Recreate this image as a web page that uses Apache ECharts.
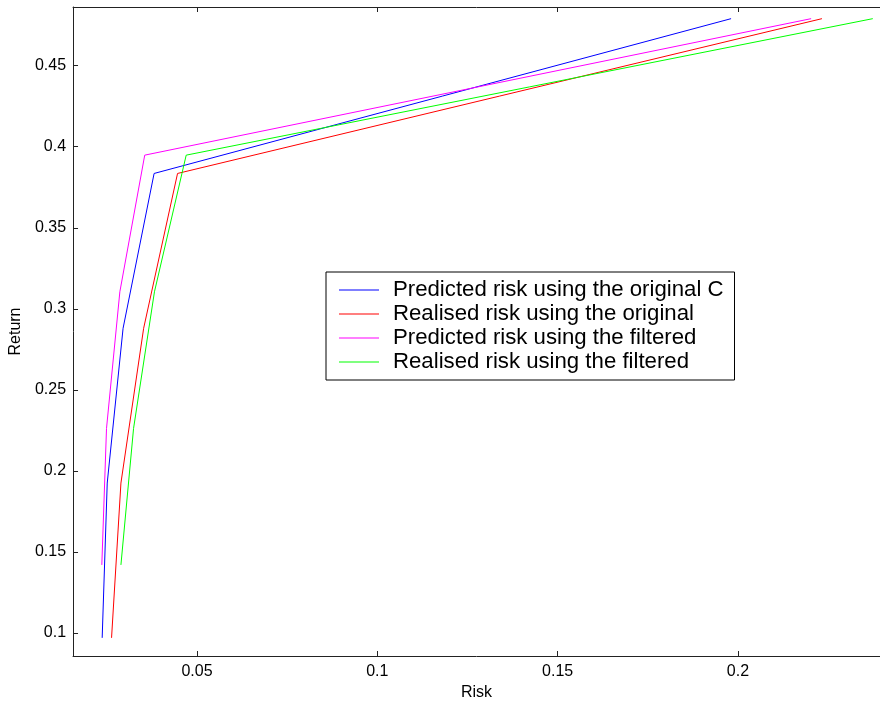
<!DOCTYPE html>
<html>
<head>
<meta charset="utf-8">
<title>Risk vs Return</title>
<script src="https://cdn.jsdelivr.net/npm/echarts@6/dist/echarts.min.js"></script>
<style>
  html, body { margin: 0; padding: 0; background: #fff; }
  #chart { width: 880px; height: 706px; }
</style>
</head>
<body>
<div id="chart"></div>
<script>
// Portfolio frontier points (return levels and corresponding risks)
const returnsOriginal = [0.097, 0.1925, 0.288, 0.3835, 0.479];
const returnsFiltered = [0.142, 0.2262, 0.3105, 0.3948, 0.479];

const riskPredictedOriginal = [0.0237, 0.0251, 0.0295, 0.0381, 0.1981];
const riskRealisedOriginal  = [0.0263, 0.0289, 0.0352, 0.0446, 0.2233];
const riskPredictedFiltered = [0.0236, 0.0249, 0.0286, 0.0355, 0.2203];
const riskRealisedFiltered  = [0.0289, 0.0324, 0.0382, 0.0470, 0.2374];

const seriesNames = [
  'Predicted risk using the original C',
  'Realised risk using the original',
  'Predicted risk using the filtered',
  'Realised risk using the filtered'
];
const seriesColors = ['#0000ff', '#ff0000', '#ff00ff', '#00ff00'];

const pair = (xs, ys) => xs.map((x, i) => [x, ys[i]]);
const seriesData = [
  pair(riskPredictedOriginal, returnsOriginal),
  pair(riskRealisedOriginal, returnsOriginal),
  pair(riskPredictedFiltered, returnsFiltered),
  pair(riskRealisedFiltered, returnsFiltered)
];

const X_MIN = 0.01562, X_MAX = 0.2394;
const Y_MIN = 0.0858, Y_MAX = 0.4862;
const FONT = 'Liberation Sans, Arial, Helvetica, sans-serif';
const AXIS_COLOR = '#222';

const chart = echarts.init(document.getElementById('chart'), null, { renderer: 'canvas' });

const baseX = {
  type: 'value',
  min: X_MIN,
  max: X_MAX,
  minInterval: 0.05,
  maxInterval: 0.05,
  axisLine: { show: true, lineStyle: { color: AXIS_COLOR, width: 1 } },
  axisTick: { show: true, inside: true, length: 5, lineStyle: { color: AXIS_COLOR } },
  splitLine: { show: false }
};

chart.setOption({
  animation: false,
  backgroundColor: '#fff',
  textStyle: { fontFamily: FONT },
  grid: { left: 70, right: 0, top: 7, bottom: 50, containLabel: false },
  xAxis: [
    Object.assign({}, baseX, {
      position: 'bottom',
      name: 'Risk',
      nameLocation: 'middle',
      nameGap: 29,
      nameTextStyle: { color: '#000', fontSize: 16, fontFamily: FONT },
      axisLabel: {
        color: '#000', fontSize: 16, fontFamily: FONT, margin: 8,
        showMinLabel: false, showMaxLabel: false
      }
    }),
    Object.assign({}, baseX, {
      position: 'top',
      axisLabel: { show: false }
    })
  ],
  yAxis: {
    type: 'value',
    min: Y_MIN,
    max: Y_MAX,
    minInterval: 0.05,
    maxInterval: 0.05,
    name: 'Return',
    nameLocation: 'middle',
    nameGap: 46,
    nameTextStyle: { color: '#000', fontSize: 16, fontFamily: FONT },
    axisLine: { show: true, lineStyle: { color: AXIS_COLOR, width: 1 } },
    axisTick: { show: true, inside: true, length: 5, lineStyle: { color: AXIS_COLOR } },
    axisLabel: {
      color: '#000', fontSize: 16, fontFamily: FONT, margin: 7,
      showMinLabel: false, showMaxLabel: false
    },
    splitLine: { show: false }
  },
  legend: {
    orient: 'vertical',
    left: 326,
    top: 272,
    padding: [6, 11, 6, 13],
    itemGap: 0,
    itemWidth: 40,
    itemHeight: 1,
    icon: 'rect',
    backgroundColor: '#fff',
    borderColor: '#000',
    borderWidth: 1,
    borderRadius: 0,
    selectedMode: false,
    data: seriesNames,
    textStyle: {
      color: '#000',
      fontSize: 22.2,
      fontFamily: FONT,
      lineHeight: 24,
      padding: [0, 0, 0, 9]
    }
  },
  series: seriesNames.map((name, i) => ({
    name: name,
    type: 'line',
    data: seriesData[i],
    symbol: 'none',
    showSymbol: false,
    lineStyle: { color: seriesColors[i], width: 1 },
    itemStyle: { color: seriesColors[i] },
    z: 2
  }))
});
</script>
</body>
</html>
